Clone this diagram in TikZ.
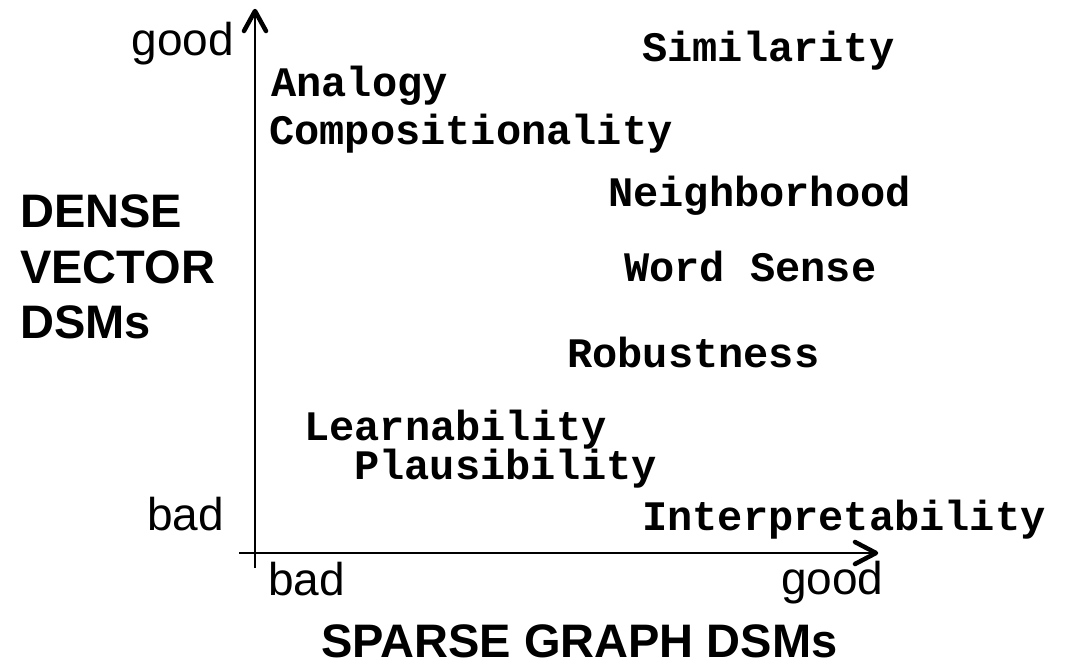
\documentclass[tikz,border=0pt]{standalone}
\usepackage{fontspec}
\setmainfont{Liberation Sans}
\newfontfamily\itemfont{Liberation Mono}

\begin{document}
\begin{tikzpicture}[x=1pt,y=-1pt,
  axislabel/.style={font=\fontsize{46}{50}\selectfont, inner sep=0pt},
  axistitle/.style={font=\bfseries\fontsize{47}{55}\selectfont, inner sep=0pt, anchor=base west},
  quality/.style={font=\itemfont\bfseries\fontsize{42}{48}\selectfont, inner sep=0pt, anchor=base west},
  axisline/.style={line width=2pt},
  axistip/.style={line width=4.5pt, line cap=round, line join=round}]
\useasboundingbox (0,0) rectangle (1074,662);

% axes with open V-shaped heads
\coordinate (ybot) at (255,568);
\coordinate (ytop) at (255,11);
\coordinate (xleft) at (239,553);
\coordinate (xright) at (876,553);
\draw[axisline] (ybot) -- (ytop);
\draw[axisline] (xleft) -- (xright);
\draw[axistip] ([shift={(-11,20)}]ytop) -- (ytop) -- ([shift={(11,20)}]ytop);
\draw[axistip] ([shift={(-21,-11)}]xright) -- (xright) -- ([shift={(-21,11)}]xright);

% axis end labels
\node[axislabel, anchor=base east] (ygood) at (234,55) {good};
\node[axislabel, anchor=base east] (ybad) at (224,530) {bad};
\node[axislabel, anchor=base west] (xbad) at (268,595) {bad};
\node[axislabel, anchor=base west] (xgood) at (781,594) {good};

% axis titles
\node[axistitle] (dense) at (20,227) {DENSE};
\node[axistitle] (vector) at (20,283) {VECTOR};
\node[axistitle] (dsmsy) at (20,338) {DSMs};
\node[axistitle, text depth=0pt] (sparse) at (321,657) {SPARSE GRAPH DSMs};

% qualities
\node[quality] (sim) at (642,61) {Similarity};
\node[quality] (ana) at (271,96) {Analogy};
\node[quality] (comp) at (269,144) {Compositionality};
\node[quality] (neigh) at (608,206) {Neighborhood};
\node[quality] (ws) at (624,281) {Word Sense};
\node[quality] (rob) at (567,367) {Robustness};
\node[quality] (learn) at (304,440) {Learnability};
\node[quality] (plaus) at (354,479) {Plausibility};
\node[quality] (interp) at (642,530) {Interpretability};
\end{tikzpicture}
\end{document}
